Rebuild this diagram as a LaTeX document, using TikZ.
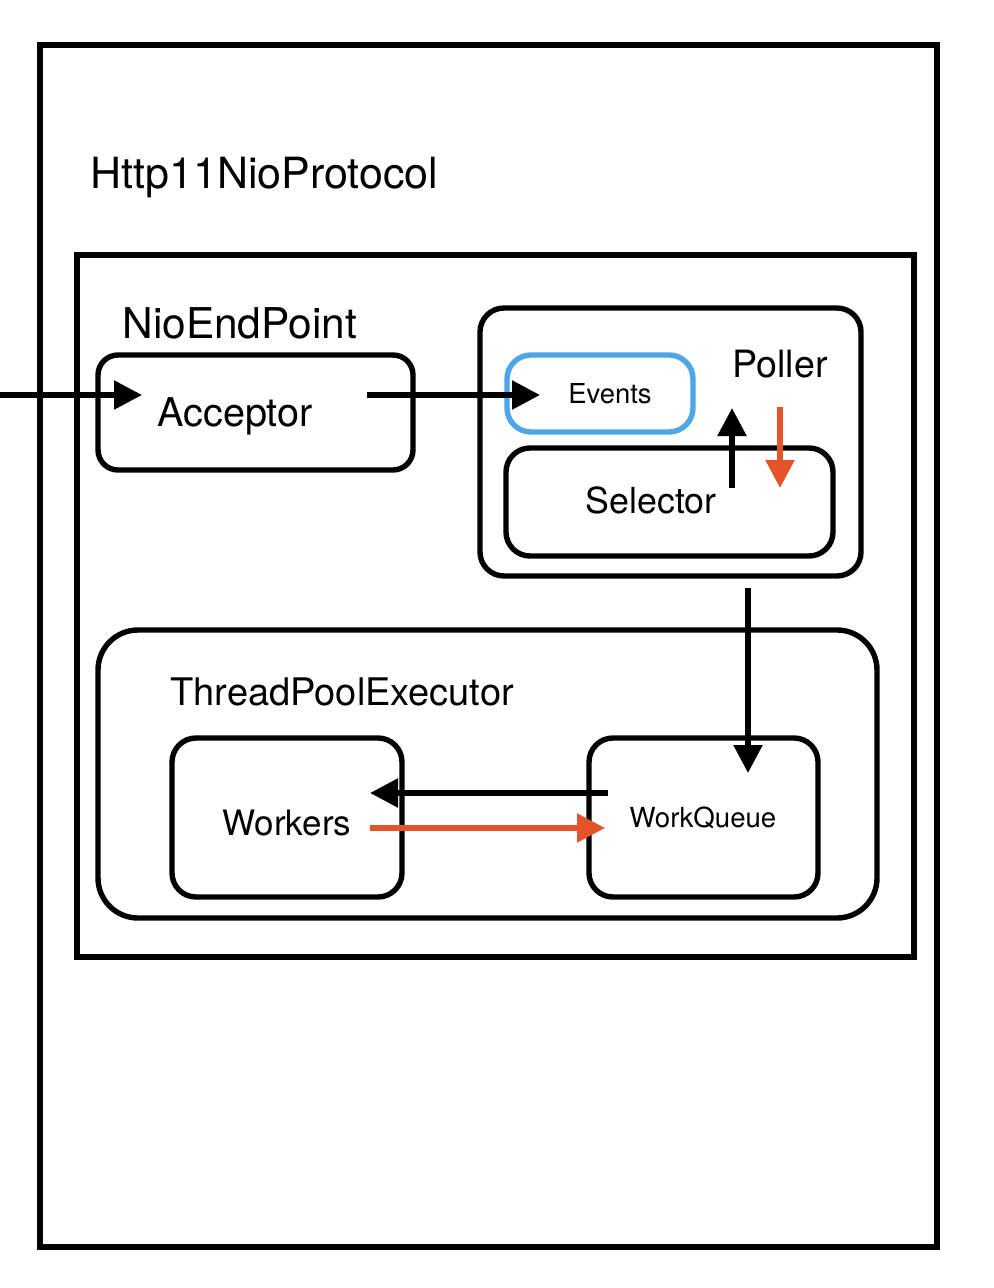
\documentclass[tikz,border=0pt]{standalone}
\usepackage{fontspec}
\setmainfont{TeX Gyre Heros}
\usetikzlibrary{arrows.meta}
\definecolor{redarrow}{HTML}{E5532B}
\definecolor{blueedge}{HTML}{4DA6E8}
\tikzset{
  box/.style={draw=black, line width=2.7pt, inner sep=0pt, fill=none},
  rbox/.style={box, rounded corners=#1},
  lbl/.style={inner sep=0pt, font=#1},
  arr/.style={line width=2.7pt, -{Triangle[length=14pt,width=14pt]}},
  rarr/.style={arr, draw=redarrow, -{Triangle[length=14pt,width=14pt,fill=redarrow]}},
}
\newcommand{\fs}[1]{\fontsize{#1}{#1}\selectfont}
\begin{document}
\begin{tikzpicture}[x=0.5pt,y=-0.5pt]
\useasboundingbox[fill=white] (0,0) rectangle (994,1288);
% outer boxes
\node[box, minimum width=448.5pt, minimum height=601pt] (proto) at (488.5,646) {};
\node[lbl=\fs{21.5}, anchor=base west] (protolbl) at (90,189) {Http11NioProtocol};
\node[box, minimum width=418.5pt, minimum height=351pt] (endp) at (495.5,606) {};
\node[lbl=\fs{21.2}, anchor=base west] (endplbl) at (122,339) {NioEndPoint};
% acceptor
\node[rbox=10pt, minimum width=157.5pt, minimum height=57.5pt] (acc) at (255.5,412.5) {};
\node[lbl=\fs{19.8}, anchor=base] (acclbl) at (235,427) {Acceptor};
% poller
\node[rbox=12pt, minimum width=190.5pt, minimum height=134pt] (poller) at (670.5,442) {};
\node[lbl=\fs{18.8}, anchor=base] (pollerlbl) at (780,378) {Poller};
\node[rbox=12pt, draw=blueedge, minimum width=93pt, minimum height=38.5pt] (events) at (600,393.5) {};
\node[lbl=\fs{13.7}, anchor=base] (eventslbl) at (610,403) {Events};
\node[rbox=12pt, minimum width=163.5pt, minimum height=54pt] (sel) at (669.5,502) {};
\node[lbl=\fs{17.9}, anchor=base] (sellbl) at (651,513) {Selector};
% thread pool
\node[rbox=20pt, minimum width=389.5pt, minimum height=144pt] (tpe) at (487.5,774) {};
\node[lbl=\fs{19}, anchor=base west] (tpelbl) at (170,705) {ThreadPoolExecutor};
\node[rbox=12pt, minimum width=115pt, minimum height=79.5pt] (wrk) at (287,817.5) {};
\node[lbl=\fs{17.5}, anchor=base] (wrklbl) at (287,835) {Workers};
\node[rbox=12pt, minimum width=114.5pt, minimum height=79.5pt] (wq) at (703.5,817.5) {};
\node[lbl=\fs{13.8}, anchor=base] (wqlbl) at (703,827) {WorkQueue};
% arrow end points
\coordinate (inS) at (0,395);
\coordinate (inE) at (142,395);
\coordinate (a2S) at (367,395);
\coordinate (a2E) at (540,395);
\coordinate (upS) at (732,488);
\coordinate (upE) at (732,408);
\coordinate (dnS) at (780,407);
\coordinate (dnE) at (780,488);
\coordinate (pqS) at (748,588);
\coordinate (pqE) at (748,773);
\coordinate (qwS) at (608,793);
\coordinate (qwE) at (370,793);
\coordinate (wqS) at (370,828);
\coordinate (wqE) at (605,828);
% arrows
\draw[arr] (inS) -- (inE);
\draw[arr] (a2S) -- (a2E);
\draw[arr] (upS) -- (upE);
\draw[rarr] (dnS) -- (dnE);
\draw[arr] (pqS) -- (pqE);
\draw[arr] (qwS) -- (qwE);
\draw[rarr] (wqS) -- (wqE);
\end{tikzpicture}
\end{document}
